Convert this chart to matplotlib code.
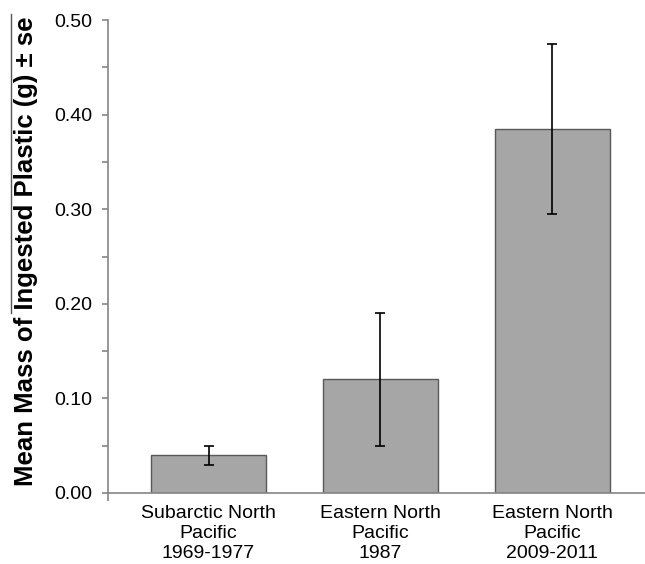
import matplotlib.pyplot as plt
from matplotlib.lines import Line2D
from matplotlib.ticker import MultipleLocator

plt.rcParams['font.family'] = ['Liberation Sans', 'DejaVu Sans']

REGIONS = ['Subarctic North\nPacific\n1969-1977',
           'Eastern North\nPacific\n1987',
           'Eastern North\nPacific\n2009-2011']
MEAN_MASS = [0.04, 0.12, 0.385]
SE_LOW = [0.01, 0.07, 0.09]
SE_HIGH = [0.01, 0.07, 0.09]
Y_TICKS = [0.0, 0.1, 0.2, 0.3, 0.4, 0.5]

AXIS_COLOR = '#858585'
XLIM = (-0.585, 2.54)

fig = plt.figure(figsize=(6.45, 5.64), dpi=100)
ax = fig.add_axes([0.1674, 0.1259, 0.8326, 0.8386])

x = range(len(REGIONS))
ax.bar(x, MEAN_MASS, width=0.67, color='#a6a6a6', edgecolor='#595959',
       linewidth=1.0, zorder=2)
ax.errorbar(x, MEAN_MASS, yerr=[SE_LOW, SE_HIGH], fmt='none', ecolor='black',
            elinewidth=1.2, capsize=3.5, capthick=1.2, zorder=3)

ax.set_xlim(*XLIM)
ax.set_ylim(0, 0.5)
ax.set_yticks(Y_TICKS)
ax.set_yticklabels(['%.2f' % v for v in Y_TICKS])
ax.yaxis.set_minor_locator(MultipleLocator(0.05))
ax.set_xticks(list(x))
ax.set_xticklabels(REGIONS, linespacing=1.2)
ax.set_xticks([XLIM[0]], minor=True)

for side in ['top', 'right']:
    ax.spines[side].set_visible(False)
for side in ['left', 'bottom']:
    ax.spines[side].set_color(AXIS_COLOR)
    ax.spines[side].set_linewidth(1.2)

ax.tick_params(axis='y', which='both', direction='out', color=AXIS_COLOR,
               width=1.2, length=4.5, labelsize=14, pad=7)
ax.tick_params(axis='x', which='major', length=0, labelsize=14, pad=9)
ax.tick_params(axis='x', which='minor', direction='out', length=6,
               width=1.2, color=AXIS_COLOR)

fig.text(0.041, 0.555, 'Mean Mass of Ingested Plastic (g) \u00b1 se',
         rotation=90, va='center', ha='center', fontsize=18.5, fontweight='bold')
# overline above part of the label, as in the source
fig.add_artist(Line2D([0.017, 0.017], [0.445, 0.975], transform=fig.transFigure,
                      color='#555555', linewidth=1.0))

plt.savefig('out.png', dpi=100)
